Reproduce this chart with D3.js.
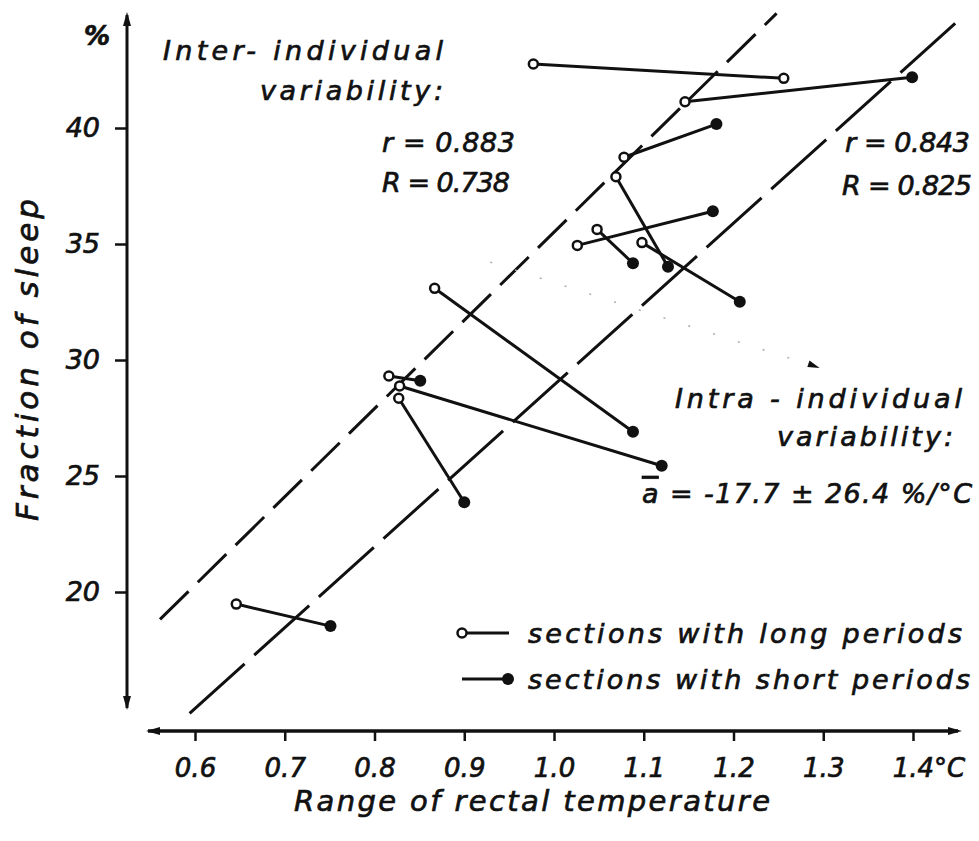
<!DOCTYPE html>
<html>
<head>
<meta charset="utf-8">
<title>Fraction of sleep vs range of rectal temperature</title>
<script src="https://d3js.org/d3.v7.min.js"></script>
<style>
  body { margin: 0; background: #fff; }
  text { font-family: 'DejaVu Sans', sans-serif; font-style: italic; fill: #111; stroke: #111; stroke-width: 0.7px; }
</style>
</head>
<body>
<svg id="chart" width="979" height="841"></svg>
<script>
// --- data ---
// every segment: start = section with long periods, end = section with short periods
var startTemp  = [0.977, 1.146, 1.078, 1.069, 1.026, 1.048, 1.098, 0.867, 0.828, 0.816, 0.827, 0.646];
var startSleep = [42.76, 41.13, 38.74, 37.90, 34.94, 35.63, 35.06, 33.09, 28.88, 29.31, 28.35, 19.48];
var endTemp    = [1.256, 1.399, 1.181, 1.127, 1.177, 1.088, 1.207, 1.088, 1.120, 0.851, 0.900, 0.751];
var endSleep   = [42.14, 42.19, 40.17, 34.02, 36.41, 34.17, 32.51, 26.91, 25.44, 29.11, 23.87, 18.53];
var endKind    = ['long', 'short', 'short', 'short', 'short', 'short', 'short', 'short', 'short', 'short', 'short', 'short'];

// the two dashed regression lines
var lineNames  = ['inter', 'intra'];
var lineTemp0  = [0.561, 0.594];
var lineSleep0 = [18.82, 14.77];
var lineTemp1  = [1.248, 1.447];
var lineSleep1 = [44.94, 44.51];

var xTicks = [0.6, 0.7, 0.8, 0.9, 1.0, 1.1, 1.2, 1.3, 1.4];
var yTicks = [20, 25, 30, 35, 40];
var legendLabels = ['sections with long periods', 'sections with short periods'];

var svg = d3.select('#chart');
var x = d3.scaleLinear().domain([0.6, 1.4]).range([195, 913]);
var y = d3.scaleLinear().domain([20, 40]).range([592, 128]);

var ink = '#111';

// ---- axes ----
var xAxisY = 731, yAxisX = 127;

var gx = svg.append('g').attr('transform', 'translate(0,' + xAxisY + ')')
  .call(d3.axisBottom(x).tickValues(xTicks).tickSize(10).tickPadding(18)
    .tickFormat(function(d) { return d.toFixed(1); }));
gx.select('.domain').remove();
gx.selectAll('.tick line').attr('stroke', ink).attr('stroke-width', 2.5);
gx.selectAll('.tick text').style('font-size', '26px').attr('fill', ink);
gx.selectAll('.tick').filter(function(d) { return d === 1.4; }).select('text')
  .attr('text-anchor', 'start').attr('dx', '-0.8em')
  .append('tspan').text('°C');

var gy = svg.append('g').attr('transform', 'translate(' + yAxisX + ',0)')
  .call(d3.axisLeft(y).tickValues(yTicks).tickSize(12).tickPadding(15));
gy.select('.domain').remove();
gy.selectAll('.tick line').attr('stroke', ink).attr('stroke-width', 2.5);
gy.selectAll('.tick text').style('font-size', '27px').attr('fill', ink);

// axis lines with arrows at both ends
svg.append('line').attr('x1', 148).attr('x2', 958).attr('y1', xAxisY).attr('y2', xAxisY)
  .attr('stroke', ink).attr('stroke-width', 3.5);
svg.append('line').attr('x1', yAxisX).attr('x2', yAxisX).attr('y1', 15).attr('y2', 708)
  .attr('stroke', ink).attr('stroke-width', 3);

function arrow(px, py, dir) {
  var a = { up: [[0, 0], [-4, 14], [4, 14]], down: [[0, 0], [-4, -14], [4, -14]],
            left: [[0, 0], [14, -4], [14, 4]], right: [[0, 0], [-14, -4], [-14, 4]] }[dir];
  svg.append('path')
    .attr('d', 'M' + a.map(function(p) { return (px + p[0]) + ',' + (py + p[1]); }).join('L') + 'Z')
    .attr('fill', ink);
}
arrow(yAxisX, 12, 'up');
arrow(yAxisX, 710, 'down');
arrow(146, xAxisY, 'left');
arrow(962, xAxisY, 'right');

svg.append('text').attr('x', 110).attr('y', 45).attr('text-anchor', 'end')
  .style('font-size', '26px').style('font-weight', 'bold').text('%');

svg.append('text').attr('transform', 'translate(38,360) rotate(-90)')
  .attr('text-anchor', 'middle').style('font-size', '31px')
  .attr('textLength', 322).attr('lengthAdjust', 'spacing')
  .text('Fraction of sleep');

svg.append('text').attr('x', 532).attr('y', 811).attr('text-anchor', 'middle')
  .style('font-size', '29px').attr('textLength', 476).attr('lengthAdjust', 'spacing')
  .text('Range of rectal temperature');

// ---- dashed regression lines ----
svg.append('g').selectAll('line').data(lineNames).join('line')
  .attr('x1', function(d, i) { return x(lineTemp0[i]); })
  .attr('y1', function(d, i) { return y(lineSleep0[i]); })
  .attr('x2', function(d, i) { return x(lineTemp1[i]); })
  .attr('y2', function(d, i) { return y(lineSleep1[i]); })
  .attr('stroke', ink).attr('stroke-width', 3)
  .attr('stroke-dasharray', function(d) { return d === 'inter' ? '40,13' : '74,13'; });

// faint dotted pointer towards the intra-individual label
var pointerTemp = [0.929, 1.296];
var pointerSleep = [34.22, 29.66];
svg.append('line')
  .attr('x1', x(pointerTemp[0])).attr('y1', y(pointerSleep[0]))
  .attr('x2', x(pointerTemp[1])).attr('y2', y(pointerSleep[1]))
  .attr('stroke', '#aaa').attr('stroke-width', 1.5).attr('stroke-dasharray', '2,24');
svg.append('path')
  .attr('transform', 'translate(' + x(pointerTemp[1]) + ',' + y(pointerSleep[1]) + ') rotate(18)')
  .attr('d', 'M0,0L-12,-4L-12,3Z').attr('fill', ink);

// ---- segments ----
var seg = svg.append('g');
seg.selectAll('line').data(startTemp).join('line')
  .attr('x1', function(d, i) { return x(startTemp[i]); })
  .attr('y1', function(d, i) { return y(startSleep[i]); })
  .attr('x2', function(d, i) { return x(endTemp[i]); })
  .attr('y2', function(d, i) { return y(endSleep[i]); })
  .attr('stroke', ink).attr('stroke-width', 3);

function dot(g, cx, cy, kind) {
  if (kind === 'long') {
    g.append('circle').attr('cx', cx).attr('cy', cy).attr('r', 4.5)
      .attr('fill', '#fff').attr('stroke', ink).attr('stroke-width', 2.5);
  } else {
    g.append('circle').attr('cx', cx).attr('cy', cy).attr('r', 6).attr('fill', ink);
  }
}
startTemp.forEach(function(d, i) {
  dot(seg, x(endTemp[i]), y(endSleep[i]), endKind[i]);
  dot(seg, x(startTemp[i]), y(startSleep[i]), 'long');
});

// ---- annotations ----
function label(t, xpos, ypos, anchor, width) {
  return svg.append('text').attr('x', xpos).attr('y', ypos).attr('text-anchor', anchor)
    .style('font-size', '27px').attr('textLength', width).attr('lengthAdjust', 'spacing').text(t);
}
label('Inter- individual', 163, 60, 'start', 280);
label('variability:', 443, 100, 'end', 183);
label('r = 0.883', 515, 152, 'end', 133);
label('R = 0.738', 510, 192, 'end', 128);
label('r = 0.843', 970, 152, 'end', 125);
label('R = 0.825', 972, 195, 'end', 130);
label('Intra - individual', 962, 408, 'end', 287);
label('variability:', 953, 446, 'end', 176);

var abar = svg.append('text').attr('x', 972).attr('y', 503).attr('text-anchor', 'end')
  .style('font-size', '27px').attr('textLength', 330).attr('lengthAdjust', 'spacing');
abar.append('tspan').style('text-decoration', 'overline').text('a');
abar.append('tspan').text(' = -17.7 ± 26.4 %/°C');

// ---- legend ----
var legendY = [633, 679];
var legendWidth = [434, 442];
var lg = svg.append('g');
legendLabels.forEach(function(t, i) {
  lg.append('line').attr('x1', 462).attr('x2', 509).attr('y1', legendY[i]).attr('y2', legendY[i])
    .attr('stroke', ink).attr('stroke-width', 3);
  dot(lg, i === 0 ? 462 : 508, legendY[i], i === 0 ? 'long' : 'short');
  lg.append('text').attr('x', 528).attr('y', legendY[i] + 10)
    .style('font-size', '27px').attr('textLength', legendWidth[i]).attr('lengthAdjust', 'spacing')
    .text(t);
});
</script>
</body>
</html>
